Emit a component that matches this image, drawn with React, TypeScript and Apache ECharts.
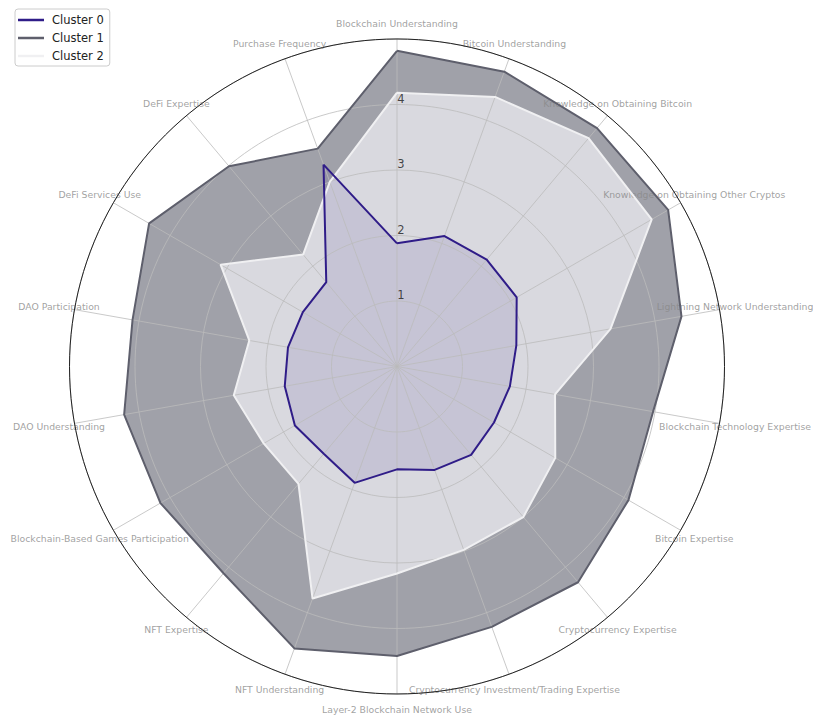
import React, { useEffect, useRef } from "react";
import * as echarts from "echarts";

const categories = [
  "Blockchain Understanding",
  "Bitcoin Understanding",
  "Knowledge on Obtaining Bitcoin",
  "Knowledge on Obtaining Other Cryptos",
  "Lightning Network Understanding",
  "Blockchain Technology Expertise",
  "Bitcoin Expertise",
  "Cryptocurrency Expertise",
  "Cryptocurrency Investment/Trading Expertise",
  "Layer-2 Blockchain Network Use",
  "NFT Understanding",
  "NFT Expertise",
  "Blockchain-Based Games Participation",
  "DAO Understanding",
  "DAO Participation",
  "DeFi Services Use",
  "DeFi Expertise",
  "Purchase Frequency",
];

const seriesNames = ["Cluster 0", "Cluster 1", "Cluster 2"];

const cluster0 = [1.88, 2.12, 2.13, 2.11, 1.85, 1.75, 1.71, 1.76, 1.68, 1.57, 1.89, 1.74, 1.8, 1.74, 1.69, 1.66, 1.68, 3.28];
const cluster1 = [4.82, 4.79, 4.75, 4.78, 4.41, 3.97, 4.08, 4.3, 4.23, 4.42, 4.58, 4.12, 4.17, 4.23, 4.1, 4.37, 3.99, 3.54];
const cluster2 = [4.18, 4.38, 4.55, 4.49, 3.31, 2.45, 2.79, 3.0, 2.98, 3.16, 3.77, 2.34, 2.35, 2.53, 2.29, 3.11, 2.23, 3.0];

const radiusTicks = [1, 2, 3, 4];

const lineColors = ["#2f1c88", "#5e5f6c", "#f0f0f2"];
const areaColors = ["rgba(47,28,136,0.11)", "#a0a1a9", "#d9d9df"];

const FONT = "DejaVu Sans";

export default function App() {
  const ref = useRef<HTMLDivElement>(null);

  useEffect(() => {
    document.body.style.margin = "0";
    if (!ref.current) return;
    const chart = echarts.init(ref.current, undefined, { renderer: "svg" });
    const step = 360 / categories.length;
    const closed = (vals: number[]) => {
      const pts = vals.map((v, i) => [v, i * step]);
      pts.push([vals[0], 360]);
      return pts;
    };
    const all = [cluster0, cluster1, cluster2];
    const areaOrder = [1, 2, 0];

    const areaSeries = areaOrder.map((k) => ({
      type: "line",
      name: seriesNames[k] + " area",
      coordinateSystem: "polar",
      data: closed(all[k]),
      symbol: "none",
      silent: true,
      clip: false,
      z: 1,
      lineStyle: { width: 0, opacity: 0 },
      areaStyle: { color: areaColors[k], opacity: 1 },
    }));

    const lineOrder = [1, 2, 0];
    const lineSeries = lineOrder.map((k) => ({
      type: "line",
      name: seriesNames[k],
      coordinateSystem: "polar",
      data: closed(all[k]),
      symbol: "none",
      silent: true,
      clip: false,
      z: 4,
      itemStyle: { color: lineColors[k] },
      lineStyle: { color: lineColors[k], width: 2 },
    }));

    const option: any = {
      animation: false,
      backgroundColor: "#ffffff",
      textStyle: { fontFamily: FONT },
      legend: {
        data: seriesNames,
        orient: "vertical",
        left: 15,
        top: 9,
        itemGap: 4,
        itemWidth: 26,
        itemHeight: 2.5,
        icon: "rect",
        padding: [4, 6, 3, 3],
        backgroundColor: "#ffffff",
        borderColor: "#cccccc",
        borderWidth: 1,
        borderRadius: 3,
        textStyle: {
          fontFamily: FONT,
          fontSize: 11.5,
          color: "#222222",
          lineHeight: 14,
          padding: [0, 0, 0, 3],
        },
      },
      polar: { center: [397, 366.5], radius: 327.5 },
      angleAxis: {
        type: "value",
        min: 0,
        max: 360,
        interval: step,
        startAngle: 90,
        clockwise: true,
        z: 3,
        axisLine: { show: true, lineStyle: { color: "#222222", width: 1 } },
        axisTick: { show: false },
        axisLabel: { show: false },
        splitLine: { show: true, lineStyle: { color: "#bbbbbb", width: 0.8 } },
      },
      radiusAxis: {
        type: "value",
        min: 0,
        max: 5,
        interval: 1,
        z: 3,
        axisLine: { show: false },
        axisTick: { show: false },
        axisLabel: { show: false },
        splitLine: { show: true, lineStyle: { color: "#bbbbbb", width: 0.8 } },
      },
      series: [
        ...areaSeries,
        {
          type: "scatter",
          name: "category labels",
          coordinateSystem: "polar",
          data: categories.map((_, i) => [5.24, i * step]),
          symbolSize: 1,
          itemStyle: { color: "rgba(0,0,0,0)" },
          silent: true,
          clip: false,
          z: 2,
          label: {
            show: true,
            position: "inside",
            color: "#8a8a8a",
            fontFamily: FONT,
            fontSize: 9.3,
            formatter: (p: any) => categories[p.dataIndex],
          },
        },
        ...lineSeries,
        {
          type: "scatter",
          name: "radius labels",
          coordinateSystem: "polar",
          data: radiusTicks.map((v) => [v, 0]),
          symbolSize: 1,
          itemStyle: { color: "rgba(0,0,0,0)" },
          silent: true,
          clip: false,
          z: 6,
          label: {
            show: true,
            position: "inside",
            offset: [4, -6],
            color: "#1a1a1a",
            fontFamily: FONT,
            fontSize: 11.5,
            formatter: (p: any) => String(radiusTicks[p.dataIndex]),
          },
        },
      ],
    };
    chart.setOption(option);
    return () => chart.dispose();
  }, []);

  return <div ref={ref} style={{ width: 813, height: 717 }} />;
}
